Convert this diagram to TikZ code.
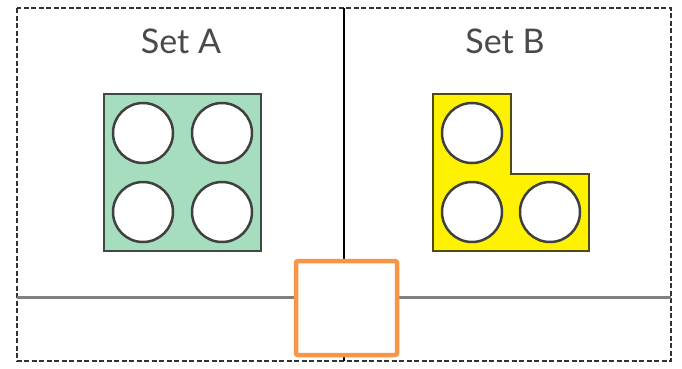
\documentclass[tikz,border=0pt]{standalone}
\usepackage{fontspec}
\setmainfont{Lato}
\definecolor{greenfill}{HTML}{A6DDBE}
\definecolor{greenedge}{HTML}{3E4A44}
\definecolor{yellowfill}{HTML}{FFF200}
\definecolor{yellowedge}{HTML}{4E4A10}
\definecolor{orangeedge}{HTML}{F79646}
\definecolor{textgray}{HTML}{4A4A4A}
\tikzset{
  frame/.style={draw=black!80, line width=1.4pt, dash pattern=on 5pt off 2.5pt},
  divider/.style={draw=black, line width=1.4pt},
  ground/.style={draw=black!50, line width=3pt},
  title/.style={font=\fontsize{34}{40}\selectfont, text=textgray, inner sep=0pt},
  greenpiece/.style={fill=greenfill, draw=greenedge, line width=2.5pt},
  yellowpiece/.style={fill=yellowfill, draw=yellowedge, line width=2.5pt},
  hole/.style={fill=white, draw=black!75, line width=2.5pt},
  slot/.style={draw=orangeedge, fill=white, line width=4.5pt, rounded corners=2pt}
}
\begin{document}
\begin{tikzpicture}[x=1pt,y=-1pt]
\useasboundingbox (0,0) rectangle (682,368);
\fill[white] (0,0) rectangle (682,368);
% frame
\draw[frame] (17,8) rectangle (671,361);
\draw[divider] (344,8) -- (344,361);
\draw[ground] (17,297) -- (671,297);
% titles
\node[title] (ta) at (181,41) {Set A};
\node[title] (tb) at (505,41) {Set B};
% Set A piece
\draw[greenpiece] (104,94) rectangle (261,251);
\foreach \cx/\cy in {143/133, 222/133, 143/212, 222/212}
  \draw[hole] (\cx,\cy) circle (30);
% Set B piece
\draw[yellowpiece] (433,94) -- (511,94) -- (511,174) -- (589,174) -- (589,251) -- (433,251) -- cycle;
\foreach \cx/\cy in {472/133, 472/212, 550/212}
  \draw[hole] (\cx,\cy) circle (30);
% orange slot
\draw[slot] (296,261) rectangle (397,355);
\end{tikzpicture}
\end{document}
